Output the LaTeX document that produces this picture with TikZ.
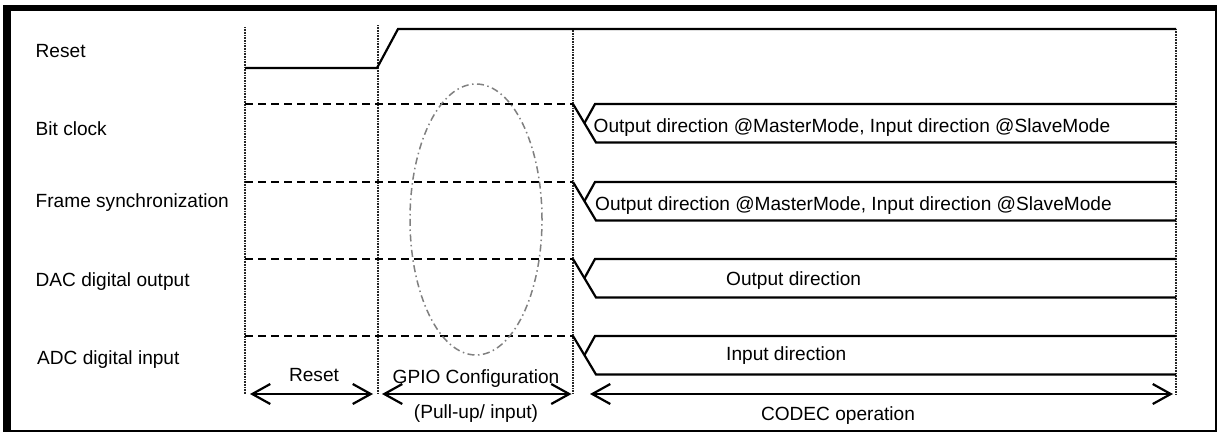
\documentclass[tikz,border=0pt]{standalone}
\usepackage{fontspec}
\setmainfont{Liberation Sans}
\usetikzlibrary{arrows.meta,shapes.geometric}
\tikzset{
  sig/.style={line width=2.2pt, line join=miter},
  dsh/.style={line width=1.6pt, dash pattern=on 8pt off 5pt},
  vline/.style={line width=1.2pt, black!85, dash pattern=on 1pt off 0.6pt},
  lbl/.style={inner sep=0pt, anchor=base west, font=\fontsize{19.1}{22}\selectfont},
  clbl/.style={inner sep=0pt, anchor=base, font=\fontsize{19.1}{22}\selectfont},
  dblarrow/.style={line width=2.2pt, {Straight Barb[length=18pt,width=20pt]}-{Straight Barb[length=18pt,width=20pt]}},
  oval/.style={draw=black!50, line width=1.5pt, dash pattern=on 7pt off 3.5pt on 1.5pt off 3.5pt},
}
\begin{document}
\begin{tikzpicture}[x=1pt,y=-1pt]
\useasboundingbox (0,0) rectangle (1218,432);
% frame
\fill[black] (3,5) rectangle (1217,432);
\fill[white] (10.5,10.5) rectangle (1215,430);

% row labels
\node[lbl] (lreset) at (35.5,57) {Reset};
\node[lbl] (lbclk) at (35.5,135) {Bit clock};
\node[lbl] (lfsync) at (35.5,207) {Frame synchronization};
\node[lbl] (ldac) at (35.5,286) {DAC digital output};
\node[lbl] (ladc) at (37,364) {ADC digital input};

% vertical phase lines
\coordinate (v1t) at (245,27); \coordinate (v1b) at (245,394);
\coordinate (v2t) at (378,25); \coordinate (v2b) at (378,394);
\coordinate (v3t) at (573,28); \coordinate (v3b) at (573,394);
\coordinate (v4t) at (1176,29); \coordinate (v4b) at (1176,395);
\draw[vline] (v1t) -- (v1b);
\draw[vline] (v2t) -- (v2b);
\draw[vline] (v3t) -- (v3b);
\draw[vline] (v4t) -- (v4b);

% reset waveform
\coordinate (r0) at (245,68);
\coordinate (r1) at (377,68);
\coordinate (r2) at (398,29);
\coordinate (r3) at (1176,29);
\draw[sig] (r0) -- (r1) -- (r2) -- (r3);

% dashed (undefined) levels
\foreach \y/\n in {104/a,182/b,259/c,336/d}{
  \coordinate (d\n s) at (245,\y);
  \coordinate (d\n e) at (573,\y);
  \draw[dsh] (d\n s) -- (d\n e);
}

% bus shapes
\foreach \yt/\n in {104/a,182/b,259/c,336/d}{
  \pgfmathsetmacro{\yb}{\yt+38.5}
  \pgfmathsetmacro{\ym}{\yt+19}
  \coordinate (b\n0) at (573,\yt);
  \coordinate (b\n1) at (596,\yb);
  \coordinate (b\n2) at (1176,\yb);
  \coordinate (b\n3) at (1176,\yt);
  \coordinate (b\n4) at (595,\yt);
  \coordinate (b\n5) at (584.5,\ym);
  \draw[sig] (b\n0) -- (b\n1) -- (b\n2);
  \draw[sig] (b\n3) -- (b\n4) -- (b\n5);
}

% bus texts
\node[lbl] (t1) at (593.5,132) {Output direction @MasterMode, Input direction @SlaveMode};
\node[lbl] (t2) at (595,210) {Output direction @MasterMode, Input direction @SlaveMode};
\node[lbl] (t3) at (726,285) {Output direction};
\node[lbl] (t4) at (726,360.5) {Input direction};

% GPIO oval
\node[oval, ellipse, minimum width=132pt, minimum height=271pt, inner sep=0pt] (ov) at (476,219.5) {};

% bottom arrows
\coordinate (a1l) at (250,394); \coordinate (a1r) at (373,394);
\coordinate (a2l) at (382,394); \coordinate (a2r) at (571.5,394);
\coordinate (a3l) at (590,394); \coordinate (a3r) at (1173,394);
\draw[dblarrow] (a1l) -- (a1r);
\draw[dblarrow] (a2l) -- (a2r);
\draw[dblarrow] (a3l) -- (a3r);

\node[clbl] (p1) at (314,381.5) {Reset};
\node[clbl] (p2) at (476,383) {GPIO Configuration};
\node[clbl] (p2b) at (476,418.3) {(Pull-up/ input)};
\node[clbl] (p3) at (838,420) {CODEC operation};
\end{tikzpicture}
\end{document}
